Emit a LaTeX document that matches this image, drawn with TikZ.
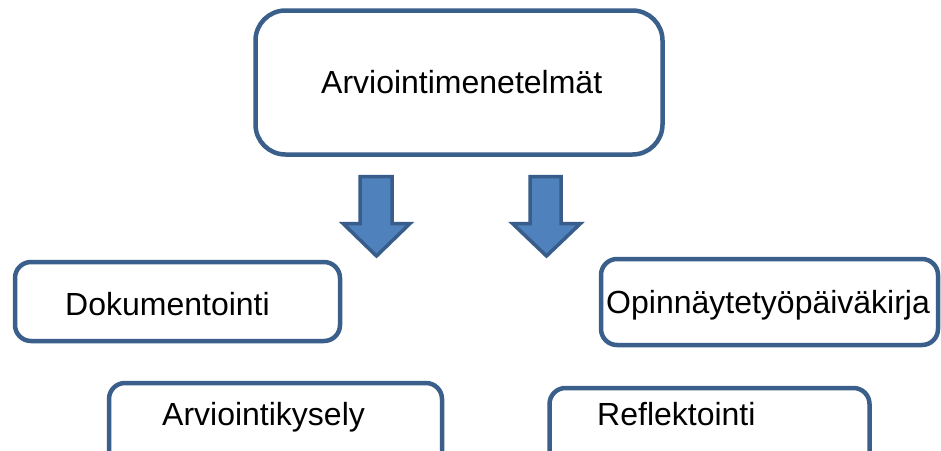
\documentclass[tikz,border=0pt]{standalone}
\usepackage{fontspec}
\setmainfont{Liberation Sans}
\definecolor{boxline}{HTML}{3A5F8B}
\definecolor{arrfill}{HTML}{4F81BD}
\definecolor{arrline}{HTML}{385D8A}
\begin{document}
\begin{tikzpicture}[x=1pt,y=-1pt,
  box/.style={draw=boxline, line width=4.5pt, rectangle, rounded corners=#1, inner sep=0pt, fill=white},
  box/.default=16pt,
  lbl/.style={anchor=base west, inner sep=0pt, font=\fontsize{32}{37}\selectfont},
  blockarrow/.style={fill=arrfill, draw=arrline, line width=3.5pt, line join=miter}]
\path[use as bounding box, clip] (0,0) rectangle (941,450);
\fill[white] (0,0) rectangle (941,450);
% boxes
\node[box=30pt, minimum width=407pt, minimum height=144pt] (top) at (459,82.5) {};
\node[box, minimum width=325pt, minimum height=79pt] (dok) at (177.5,301.5) {};
\node[box, minimum width=333pt, minimum height=87pt] (arv) at (275.5,426.5) {};
\node[box, minimum width=337pt, minimum height=86pt] (opi) at (769.5,302) {};
\node[box, minimum width=320pt, minimum height=82pt] (ref) at (709.5,429) {};
% texts
\node[lbl] (ttop) at (321,93) {Arviointimenetelmät};
\node[lbl] (tdok) at (65,315) {Dokumentointi};
\node[lbl] (tarv) at (162,425) {Arviointikysely};
\node[lbl] (topi) at (606,313) {Opinnäytetyöpäiväkirja};
\node[lbl] (tref) at (597,425) {Reflektointi};
% block arrows
\draw[blockarrow] (360,176.5) -- (392,176.5) -- (392,223.5) -- (410,223.5) -- (376.5,256) -- (343,223.5) -- (360,223.5) -- cycle;
\draw[blockarrow] (530,176.5) -- (561,176.5) -- (561,223.5) -- (580.5,223.5) -- (546.5,256) -- (512.5,223.5) -- (530,223.5) -- cycle;
\end{tikzpicture}
\end{document}
